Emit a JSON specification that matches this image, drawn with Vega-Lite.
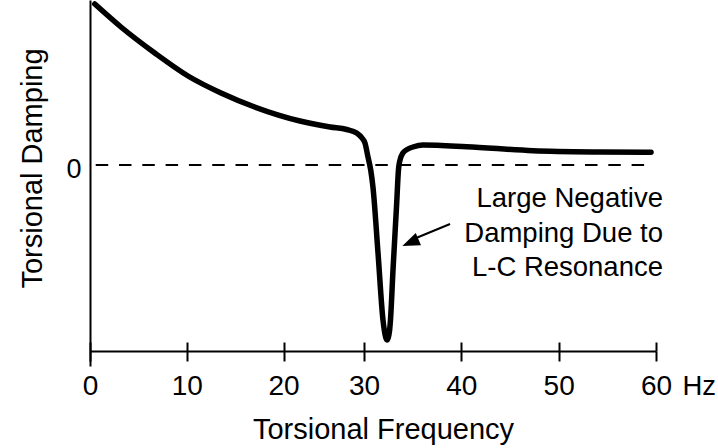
{
  "$schema": "https://vega.github.io/schema/vega-lite/v6.json",
  "autosize": "none",
  "padding": {"left": 90, "top": 0, "right": 62, "bottom": 82},
  "width": 566,
  "height": 366,
  "background": "white",
  "config": {
    "view": {"stroke": null},
    "font": "Liberation Sans",
    "axis": {"labelColor": "black", "titleColor": "black", "domainColor": "black", "tickColor": "black", "titleFontWeight": "normal", "grid": false, "labelFont": "Liberation Sans", "titleFont": "Liberation Sans"}
  },
  "resolve": {"scale": {"x": "shared", "y": "shared"}, "axis": {"x": "independent", "y": "independent"}},
  "layer": [
    {
      "data": {"values": [
        {"f": 0.49, "d": 16.1}, {"f": 3.2, "d": 13.8}, {"f": 6.69, "d": 11.2}, {"f": 10.13, "d": 8.9},
        {"f": 13.54, "d": 7.2}, {"f": 17.02, "d": 5.8}, {"f": 22.05, "d": 4.4},
        {"f": 25.78, "d": 3.8}, {"f": 27.85, "d": 3.55}, {"f": 29.09, "d": 3.2}, {"f": 29.75, "d": 2.7},
        {"f": 30.1, "d": 2.2}, {"f": 30.41, "d": 0.8}, {"f": 30.69, "d": -0.5}, {"f": 30.92, "d": -2.2},
        {"f": 31.44, "d": -8.8}, {"f": 31.95, "d": -15.5}, {"f": 32.1, "d": -16.6}, {"f": 32.36, "d": -17.5},
        {"f": 32.62, "d": -16.6}, {"f": 32.72, "d": -15.5}, {"f": 32.98, "d": -10.5}, {"f": 33.36, "d": -3.8},
        {"f": 33.54, "d": -0.5}, {"f": 33.65, "d": 0.3}, {"f": 34.0, "d": 1.2}, {"f": 34.52, "d": 1.6},
        {"f": 35.03, "d": 1.8}, {"f": 36.06, "d": 2.0}, {"f": 40.55, "d": 1.83}, {"f": 47.36, "d": 1.43},
        {"f": 54.25, "d": 1.3}, {"f": 59.49, "d": 1.27}
      ]},
      "mark": {"type": "line", "interpolate": "monotone", "color": "black", "strokeWidth": 5.5, "strokeCap": "round", "strokeJoin": "round"},
      "encoding": {
        "x": {"field": "f", "type": "quantitative",
          "scale": {"type": "linear", "domain": [0, 20, 30, 60], "range": [0, 193.5, 274, 566], "nice": false, "zero": false},
          "axis": {"orient": "bottom", "offset": -15, "values": [0, 10, 20, 30, 40, 50, 60], "domain": true, "domainWidth": 2, "ticks": true, "tickSize": 10, "tickWidth": 2, "labels": true, "labelFontSize": 28, "labelPadding": 11, "labelFlush": false, "labelOverlap": false, "title": "Torsional Frequency", "titleFontSize": 29, "titleX": 293, "titleY": 87, "titleAlign": "center", "titleBaseline": "alphabetic"}},
        "y": {"field": "d", "type": "quantitative",
          "scale": {"domain": [-20.1, 16.5], "nice": false, "zero": false},
          "axis": {"orient": "left", "values": [0], "domain": true, "domainWidth": 2, "ticks": false, "labelFontSize": 27, "labelPadding": 9, "labelOffset": 4, "labelFlush": false, "title": "Torsional Damping", "titleFontSize": 29, "titleX": -49, "titleY": 168, "titleAngle": 270, "titleAlign": "center", "titleBaseline": "alphabetic"}}
      }
    },
    {
      "data": {"values": [{"f": 0.59, "f2": 59.69, "d": 0}]},
      "mark": {"type": "rule", "color": "black", "strokeWidth": 1.8, "strokeDash": [12.5, 10.8]},
      "encoding": {
        "x": {"field": "f", "type": "quantitative",
          "axis": {"orient": "bottom", "offset": -24, "values": [0, 10, 20, 30, 40, 50, 60], "domain": false, "ticks": true, "tickSize": 9, "tickWidth": 2, "labels": false, "title": "Hz", "titleFontSize": 27.5, "titleX": 592, "titleY": 52, "titleAlign": "left", "titleBaseline": "alphabetic"}},
        "x2": {"field": "f2"},
        "y": {"field": "d", "type": "quantitative", "axis": null}
      }
    },
    {
      "data": {"values": [{"f": 38.84, "d": -5.9, "f2": 34.73, "d2": -7.55}]},
      "mark": {"type": "rule", "color": "black", "strokeWidth": 2},
      "encoding": {
        "x": {"field": "f", "type": "quantitative", "axis": null},
        "x2": {"field": "f2"},
        "y": {"field": "d", "type": "quantitative", "axis": null},
        "y2": {"field": "d2"}
      }
    },
    {
      "data": {"values": [{"f": 33.94, "d": -8.1}]},
      "mark": {"type": "point", "shape": "M0,0L1,-0.385L1,0.385Z", "size": 1211, "angle": 337, "filled": true, "color": "black", "opacity": 1, "strokeWidth": 0},
      "encoding": {
        "x": {"field": "f", "type": "quantitative", "axis": null},
        "y": {"field": "d", "type": "quantitative", "axis": null}
      }
    },
    {
      "data": {"values": [{"f": 60.72, "d": -4.23, "note": "Large Negative\nDamping Due to\nL-C Resonance"}]},
      "mark": {"type": "text", "align": "right", "baseline": "alphabetic", "fontSize": 27.5, "lineHeight": 34.5, "lineBreak": "\n", "color": "black", "font": "Liberation Sans"},
      "encoding": {
        "x": {"field": "f", "type": "quantitative", "axis": null},
        "y": {"field": "d", "type": "quantitative", "axis": null},
        "text": {"field": "note"}
      }
    }
  ]
}
